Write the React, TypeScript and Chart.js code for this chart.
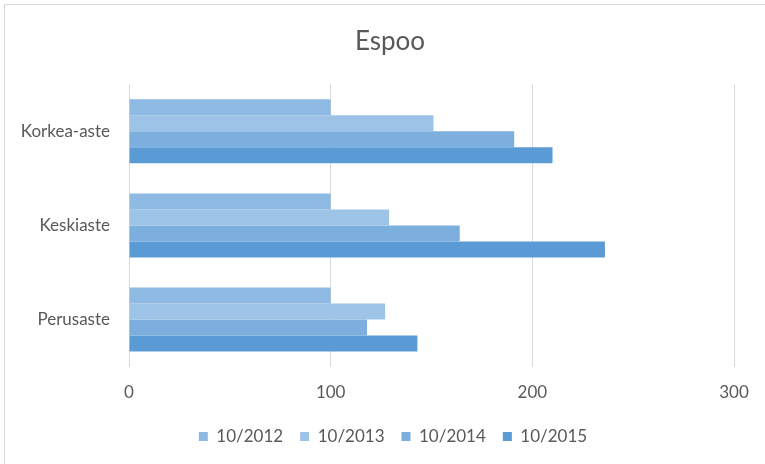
import React, { useEffect, useRef } from "react";
import { Chart, registerables } from "chart.js";

Chart.register(...registerables);

const categories = ["Korkea-aste", "Keskiaste", "Perusaste"];
const seriesNames = ["10/2012", "10/2013", "10/2014", "10/2015"];
const values2012 = [100, 100, 100];
const values2013 = [151, 129, 127];
const values2014 = [191, 164, 118];
const values2015 = [210, 236, 143];
const seriesColors = ["#8EB9E3", "#9DC3E6", "#7CAFDD", "#5B9BD5"];
const xMin = 0;
const xMax = 300;
const xStep = 100;

const FONT = "Lato, 'Open Sans', sans-serif";
const TEXT = "#595959";

const shiftPlugin = {
  id: "shiftBlocks",
  afterLayout(chart: any) {
    const t = chart.titleBlock;
    if (t) {
      t.left += 23;
      t.right += 23;
    }
    const l = chart.legend;
    if (l) {
      l.left += 26;
      l.right += 26;
    }
  },
};

export default function App() {
  const ref = useRef<HTMLCanvasElement | null>(null);

  useEffect(() => {
    if (!ref.current) return;
    const seriesValues = [values2012, values2013, values2014, values2015];
    const chart = new Chart(ref.current, {
      type: "bar",
      data: {
        labels: categories,
        datasets: seriesNames.map((name, i) => ({
          label: name,
          data: seriesValues[i],
          backgroundColor: seriesColors[i],
          borderWidth: 0,
          barPercentage: 1,
          categoryPercentage: 0.68,
        })),
      },
      plugins: [shiftPlugin],
      options: {
        indexAxis: "y",
        responsive: false,
        animation: false,
        layout: { padding: { left: 0, right: 31, top: 0, bottom: 9 } },
        plugins: {
          title: {
            display: true,
            text: "Espoo",
            color: TEXT,
            font: { family: FONT, size: 26, weight: "normal" },
            padding: { top: 26, bottom: 27 },
          },
          legend: {
            display: true,
            position: "bottom",
            labels: {
              boxWidth: 9,
              boxHeight: 9,
              color: TEXT,
              padding: 17,
              font: { family: FONT, size: 17 },
            },
          },
          tooltip: { enabled: false },
        },
        scales: {
          x: {
            min: xMin,
            max: xMax,
            ticks: {
              stepSize: xStep,
              color: TEXT,
              padding: 16,
              font: { family: FONT, size: 17 },
            },
            grid: { color: "#d9d9d9", drawTicks: false },
            border: { display: false },
            afterFit: (s: any) => {
              s.height = s.height - 8;
            },
          },
          y: {
            ticks: {
              color: TEXT,
              padding: 19,
              font: { family: FONT, size: 17 },
            },
            grid: { display: false, drawTicks: false },
            border: { display: false },
            afterFit: (s: any) => {
              s.width = 129;
            },
          },
        },
      },
    });
    return () => chart.destroy();
  }, []);

  return (
    <div style={{ position: "fixed", left: 0, top: 0, width: 765, height: 464, background: "#fff", overflow: "hidden" }}>
      <div
        style={{
          position: "absolute",
          left: 4,
          top: 4,
          width: 800,
          height: 500,
          borderLeft: "1px solid #d9d9d9",
          borderTop: "1px solid #d9d9d9",
        }}
      />
      <canvas ref={ref} width={765} height={464} style={{ position: "absolute", left: 0, top: 0 }} />
    </div>
  );
}
